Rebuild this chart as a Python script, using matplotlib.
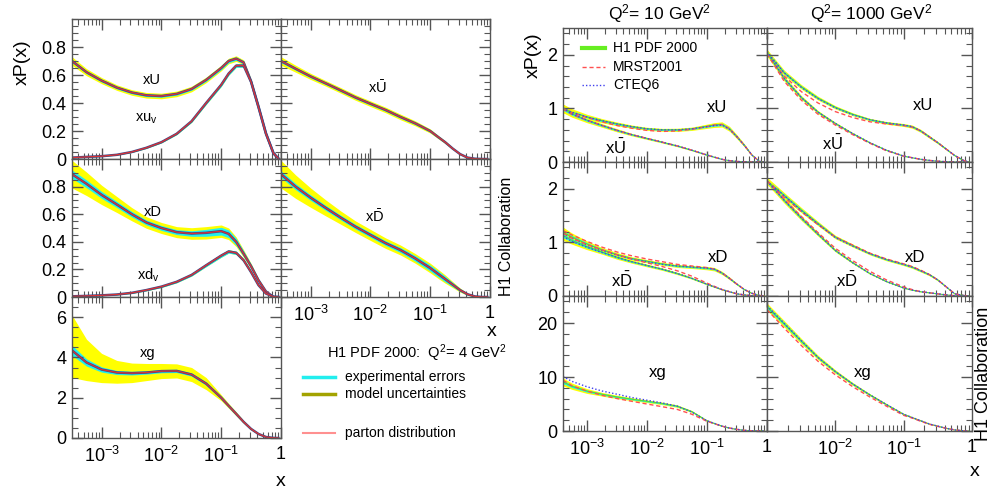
import numpy as np
import matplotlib
matplotlib.use("Agg")
import matplotlib.pyplot as plt
from matplotlib.ticker import LogLocator, MultipleLocator, NullFormatter

plt.rcParams['font.family'] = ['Liberation Sans', 'DejaVu Sans']
plt.rcParams['mathtext.fontset'] = 'custom'
plt.rcParams['mathtext.rm'] = 'Liberation Sans'
plt.rcParams['mathtext.it'] = 'Liberation Sans:italic'
plt.rcParams['mathtext.bf'] = 'Liberation Sans:bold'

# ---- H1 PDF 2000 at Q^2 = 4 GeV^2 ----
x_q4 = [3.2e-4, 5.6e-4, 1e-3, 1.8e-3, 3.2e-3, 5.6e-3, 1e-2, 1.8e-2, 3.2e-2, 5.6e-2,
        0.1, 0.133, 0.178, 0.237, 0.316, 0.42, 0.56, 0.75, 0.9]
xU = [0.70, 0.62, 0.56, 0.51, 0.475, 0.455, 0.45, 0.465, 0.50, 0.565, 0.65, 0.70, 0.717, 0.69, 0.555, 0.376, 0.185, 0.04, 0.005]
xU_tot = [0.03, 0.025, 0.022, 0.02, 0.02, 0.02, 0.02, 0.02, 0.02, 0.02, 0.02, 0.02, 0.02, 0.018, 0.015, 0.01, 0.006, 0.002, 0]
xU_exp = [0.012, 0.01, 0.01, 0.009, 0.009, 0.009, 0.009, 0.009, 0.009, 0.01, 0.012, 0.012, 0.012, 0.011, 0.01, 0.007, 0.004, 0.001, 0]
xuv = [0.01, 0.015, 0.02, 0.03, 0.05, 0.08, 0.12, 0.18, 0.27, 0.40, 0.53, 0.61, 0.667, 0.667, 0.55, 0.37, 0.18, 0.04, 0.005]
xuv_err = [0.002, 0.002, 0.002, 0.002, 0.003, 0.004, 0.005, 0.006, 0.008, 0.01, 0.012, 0.012, 0.012, 0.012, 0.01, 0.008, 0.005, 0.002, 0]
xUbar = [0.70, 0.645, 0.59, 0.54, 0.49, 0.44, 0.395, 0.35, 0.30, 0.255, 0.20, 0.16, 0.12, 0.075, 0.035, 0.01, 0.002, 0, 0]
xUbar_tot = [0.03, 0.025, 0.022, 0.02, 0.02, 0.02, 0.02, 0.02, 0.02, 0.018, 0.015, 0.012, 0.01, 0.007, 0.004, 0.002, 0, 0, 0]
xUbar_exp = [0.012, 0.01, 0.01, 0.009, 0.009, 0.009, 0.009, 0.009, 0.009, 0.009, 0.008, 0.007, 0.006, 0.004, 0.002, 0.001, 0, 0, 0]
xD = [0.89, 0.82, 0.74, 0.67, 0.60, 0.54, 0.50, 0.47, 0.46, 0.465, 0.477, 0.458, 0.40, 0.314, 0.223, 0.122, 0.04, 0.0, 0.0]
xD_tot = [0.10, 0.085, 0.07, 0.058, 0.048, 0.042, 0.04, 0.04, 0.042, 0.045, 0.045, 0.042, 0.035, 0.028, 0.02, 0.012, 0.005, 0, 0]
xD_exp = [0.03, 0.028, 0.025, 0.022, 0.02, 0.018, 0.018, 0.018, 0.02, 0.025, 0.028, 0.028, 0.025, 0.02, 0.015, 0.01, 0.004, 0, 0]
xdv = [0.005, 0.008, 0.012, 0.018, 0.03, 0.05, 0.075, 0.11, 0.16, 0.23, 0.30, 0.33, 0.32, 0.266, 0.18, 0.086, 0.025, 0.002, 0.0]
xdv_err = [0.002, 0.002, 0.003, 0.003, 0.004, 0.005, 0.006, 0.007, 0.008, 0.01, 0.012, 0.012, 0.012, 0.011, 0.01, 0.006, 0.003, 0.001, 0]
xDbar = [0.89, 0.80, 0.72, 0.645, 0.575, 0.51, 0.45, 0.39, 0.34, 0.28, 0.21, 0.17, 0.13, 0.09, 0.05, 0.02, 0.004, 0, 0]
xDbar_tot = [0.10, 0.085, 0.07, 0.058, 0.048, 0.042, 0.04, 0.038, 0.036, 0.035, 0.035, 0.033, 0.03, 0.022, 0.015, 0.008, 0.002, 0, 0]
xDbar_exp = [0.025, 0.022, 0.02, 0.018, 0.017, 0.017, 0.017, 0.017, 0.018, 0.02, 0.022, 0.022, 0.02, 0.015, 0.01, 0.005, 0.001, 0, 0]
xg = [4.35, 3.75, 3.40, 3.25, 3.22, 3.25, 3.32, 3.33, 3.15, 2.70, 2.0, 1.6, 1.2, 0.8, 0.45, 0.2, 0.05, 0.005, 0]
xg_up = [1.75, 1.15, 0.8, 0.6, 0.5, 0.45, 0.38, 0.35, 0.35, 0.3, 0.15, 0.12, 0.1, 0.07, 0.05, 0.03, 0.01, 0, 0]
xg_dn = [1.35, 0.9, 0.65, 0.53, 0.47, 0.4, 0.37, 0.35, 0.35, 0.3, 0.15, 0.12, 0.1, 0.07, 0.05, 0.03, 0.01, 0, 0]
xg_exp = [0.25, 0.18, 0.13, 0.1, 0.09, 0.08, 0.08, 0.08, 0.08, 0.08, 0.07, 0.06, 0.05, 0.04, 0.03, 0.02, 0.01, 0, 0]

# ---- comparison with MRST2001 / CTEQ6 at Q^2 = 10 GeV^2 ----
x_q10 = [4e-4, 5.6e-4, 1e-3, 1.8e-3, 3.2e-3, 5.6e-3, 1e-2, 1.8e-2, 3.2e-2, 5.6e-2,
         0.1, 0.133, 0.178, 0.237, 0.316, 0.42, 0.56, 0.75, 0.9]
q10_tot = [0.08, 0.07, 0.06, 0.05, 0.05, 0.045, 0.045, 0.045, 0.05, 0.05, 0.06, 0.065, 0.07, 0.075, 0.08, 0.09, 0.1, 0.1, 0.1]
q10_exp = [0.035, 0.03, 0.028, 0.025, 0.025, 0.022, 0.022, 0.022, 0.025, 0.025, 0.03, 0.032, 0.035, 0.038, 0.04, 0.045, 0.05, 0.05, 0.05]
h1_10_U = [1.0, 0.93, 0.84, 0.77, 0.71, 0.66, 0.62, 0.60, 0.60, 0.62, 0.667, 0.69, 0.70, 0.62, 0.47, 0.31, 0.13, 0.01, 0.0]
mrst_10_U = [1.0, 0.92, 0.83, 0.75, 0.68, 0.63, 0.59, 0.57, 0.58, 0.61, 0.66, 0.69, 0.70, 0.62, 0.47, 0.31, 0.13, 0.01, 0.0]
cteq_10_U = [1.0, 0.93, 0.84, 0.77, 0.71, 0.66, 0.62, 0.60, 0.60, 0.62, 0.66, 0.68, 0.69, 0.61, 0.47, 0.31, 0.13, 0.01, 0.0]
h1_10_Ubar = [1.0, 0.90, 0.78, 0.68, 0.59, 0.51, 0.44, 0.37, 0.30, 0.22, 0.13, 0.09, 0.05, 0.025, 0.01, 0.003, 0, 0, 0]
mrst_10_Ubar = [0.99, 0.89, 0.78, 0.68, 0.59, 0.51, 0.44, 0.37, 0.30, 0.22, 0.13, 0.09, 0.05, 0.025, 0.01, 0.003, 0, 0, 0]
cteq_10_Ubar = [1.0, 0.90, 0.78, 0.68, 0.59, 0.51, 0.44, 0.37, 0.30, 0.22, 0.13, 0.09, 0.05, 0.025, 0.01, 0.003, 0, 0, 0]
h1_10_D = [1.19, 1.10, 0.97, 0.86, 0.77, 0.70, 0.65, 0.60, 0.56, 0.54, 0.52, 0.50, 0.43, 0.33, 0.22, 0.12, 0.05, 0.01, 0.0]
mrst_10_D = [1.22, 1.14, 1.02, 0.91, 0.82, 0.75, 0.69, 0.64, 0.59, 0.56, 0.53, 0.50, 0.43, 0.33, 0.22, 0.12, 0.05, 0.01, 0.0]
cteq_10_D = [1.17, 1.08, 0.95, 0.85, 0.76, 0.69, 0.64, 0.59, 0.56, 0.54, 0.52, 0.50, 0.43, 0.33, 0.22, 0.12, 0.05, 0.01, 0.0]
h1_10_Dbar = [1.13, 1.04, 0.92, 0.82, 0.72, 0.64, 0.57, 0.50, 0.42, 0.33, 0.22, 0.17, 0.12, 0.08, 0.04, 0.02, 0.005, 0, 0]
mrst_10_Dbar = [1.17, 1.08, 0.96, 0.86, 0.77, 0.69, 0.62, 0.55, 0.47, 0.37, 0.24, 0.18, 0.12, 0.08, 0.04, 0.02, 0.005, 0, 0]
cteq_10_Dbar = [1.11, 1.02, 0.91, 0.81, 0.72, 0.64, 0.57, 0.50, 0.42, 0.33, 0.22, 0.17, 0.12, 0.08, 0.04, 0.02, 0.005, 0, 0]
h1_10_g = [9.1, 8.3, 7.4, 6.8, 6.3, 5.9, 5.5, 5.1, 4.6, 3.6, 1.9, 1.4, 0.9, 0.55, 0.3, 0.12, 0.03, 0, 0]
mrst_10_g = [9.4, 8.4, 7.4, 6.6, 6.0, 5.5, 5.0, 4.5, 4.0, 3.1, 1.8, 1.35, 0.9, 0.55, 0.3, 0.12, 0.03, 0, 0]
cteq_10_g = [10.1, 9.2, 8.2, 7.4, 6.8, 6.2, 5.7, 5.2, 4.6, 3.5, 1.9, 1.4, 0.9, 0.55, 0.3, 0.12, 0.03, 0, 0]

# ---- Q^2 = 1000 GeV^2 ----
x_q1000 = [1e-3, 1.8e-3, 3.2e-3, 5.6e-3, 1e-2, 1.8e-2, 3.2e-2, 5.6e-2,
           0.1, 0.133, 0.178, 0.237, 0.316, 0.42, 0.56, 0.75, 0.9]
q1000_tot = [0.03, 0.03, 0.03, 0.03, 0.03, 0.03, 0.03, 0.035, 0.04, 0.045, 0.05, 0.055, 0.06, 0.07, 0.08, 0.1, 0.1]
q1000_exp = [0.015, 0.015, 0.015, 0.015, 0.015, 0.015, 0.015, 0.018, 0.02, 0.022, 0.025, 0.028, 0.03, 0.035, 0.04, 0.05, 0.05]
h1_1000_U = [2.04, 1.66, 1.40, 1.19, 1.02, 0.89, 0.79, 0.73, 0.69, 0.66, 0.58, 0.47, 0.36, 0.24, 0.12, 0.03, 0.0]
mrst_1000_U = [2.02, 1.60, 1.31, 1.10, 0.94, 0.83, 0.75, 0.71, 0.68, 0.65, 0.58, 0.47, 0.36, 0.24, 0.12, 0.03, 0.0]
cteq_1000_U = [2.06, 1.66, 1.39, 1.18, 1.01, 0.88, 0.79, 0.73, 0.69, 0.66, 0.58, 0.47, 0.36, 0.24, 0.12, 0.03, 0.0]
h1_1000_Ubar = [2.04, 1.55, 1.20, 0.93, 0.72, 0.53, 0.36, 0.22, 0.11, 0.08, 0.05, 0.03, 0.015, 0.005, 0, 0, 0]
mrst_1000_Ubar = [2.02, 1.50, 1.15, 0.89, 0.69, 0.51, 0.35, 0.21, 0.11, 0.08, 0.05, 0.03, 0.015, 0.005, 0, 0, 0]
cteq_1000_Ubar = [2.06, 1.56, 1.20, 0.93, 0.72, 0.53, 0.36, 0.22, 0.11, 0.08, 0.05, 0.03, 0.015, 0.005, 0, 0, 0]
h1_1000_D = [2.15, 1.87, 1.60, 1.35, 1.10, 0.94, 0.79, 0.68, 0.59, 0.54, 0.47, 0.40, 0.30, 0.17, 0.04, 0.01, 0.0]
mrst_1000_D = [2.15, 1.84, 1.57, 1.33, 1.10, 0.95, 0.80, 0.69, 0.60, 0.55, 0.48, 0.40, 0.30, 0.17, 0.04, 0.01, 0.0]
cteq_1000_D = [2.14, 1.87, 1.59, 1.34, 1.09, 0.93, 0.79, 0.68, 0.59, 0.54, 0.47, 0.40, 0.30, 0.17, 0.04, 0.01, 0.0]
h1_1000_Dbar = [2.15, 1.78, 1.45, 1.15, 0.85, 0.62, 0.42, 0.27, 0.15, 0.11, 0.08, 0.06, 0.04, 0.02, 0.005, 0, 0]
mrst_1000_Dbar = [2.15, 1.80, 1.48, 1.18, 0.89, 0.66, 0.46, 0.30, 0.17, 0.12, 0.08, 0.06, 0.04, 0.02, 0.005, 0, 0]
cteq_1000_Dbar = [2.14, 1.78, 1.45, 1.15, 0.85, 0.62, 0.42, 0.27, 0.15, 0.11, 0.08, 0.06, 0.04, 0.02, 0.005, 0, 0]
h1_1000_g = [23.0, 19.8, 16.6, 13.6, 11.0, 8.7, 6.7, 4.9, 3.1, 2.5, 1.9, 1.3, 0.9, 0.5, 0.2, 0.03, 0.0]
mrst_1000_g = [22.5, 19.0, 15.8, 12.9, 10.4, 8.2, 6.3, 4.6, 2.9, 2.4, 1.8, 1.25, 0.85, 0.5, 0.2, 0.03, 0.0]
cteq_1000_g = [23.2, 19.9, 16.7, 13.6, 11.0, 8.7, 6.7, 4.9, 3.1, 2.5, 1.9, 1.3, 0.9, 0.5, 0.2, 0.03, 0.0]

W, H = 992, 492
fig = plt.figure(figsize=(W / 100, H / 100), dpi=100)
GRID = '#555555'


def panel(x0, y0, x1, y1):
    return fig.add_axes([x0 / W, 1 - y1 / H, (x1 - x0) / W, (y1 - y0) / H])


def ftext(x, y, s, **kw):
    kw.setdefault('ha', 'center')
    kw.setdefault('va', 'center')
    fig.text(x / W, 1 - y / H, s, **kw)


def style(ax, xlim, ylim, yticks, yminor, ylabels=False, xlabels=None):
    ax.set_xscale('log')
    ax.set_xlim(*xlim)
    ax.set_ylim(*ylim)
    ax.set_xticks([1e-3, 1e-2, 1e-1, 1])
    ax.xaxis.set_minor_locator(LogLocator(base=10, subs=np.arange(2, 10), numticks=20))
    ax.xaxis.set_minor_formatter(NullFormatter())
    if xlabels is None:
        ax.set_xticklabels([])
    else:
        ax.set_xticklabels(xlabels)
    ax.set_yticks(yticks)
    ax.yaxis.set_minor_locator(MultipleLocator(yminor))
    if ylabels:
        ax.set_yticklabels([('%g' % t) for t in yticks])
    else:
        ax.set_yticklabels([])
    ax.tick_params(which='both', direction='in', top=True, right=True,
                   color=GRID, labelsize=13, pad=4)
    ax.tick_params(which='major', length=8, width=1)
    ax.tick_params(which='minor', length=4, width=0.8)
    for s in ax.spines.values():
        s.set_color(GRID)
        s.set_linewidth(1)


def h1_band(ax, x, c, up, dn, eu, ed):
    c = np.asarray(c)
    ax.fill_between(x, c + np.asarray(up), c - np.asarray(dn), color='#ffff00', lw=0)
    ax.fill_between(x, c + np.asarray(eu), c - np.asarray(ed), color='#22eeee', lw=0)
    ax.plot(x, c, color='#3b4a8a', lw=1.8)
    ax.plot(x, c, color='#dd3333', lw=0.9)


LABELS_FULL = ['$10^{-3}$', '$10^{-2}$', '$10^{-1}$', '1']

# left block: Q^2 = 4 GeV^2
xl = (3.2e-4, 1)
a = panel(72, 19, 281, 159)
style(a, xl, (0, 1.0), [0, 0.2, 0.4, 0.6, 0.8], 0.05, ylabels=True)
h1_band(a, x_q4, xU, xU_tot, xU_tot, xU_exp, xU_exp)
h1_band(a, x_q4, xuv, xuv_err, xuv_err, xuv_err, xuv_err)

a = panel(281, 19, 490, 159)
style(a, xl, (0, 1.0), [0, 0.2, 0.4, 0.6, 0.8], 0.05)
h1_band(a, x_q4, xUbar, xUbar_tot, xUbar_tot, xUbar_exp, xUbar_exp)

a = panel(72, 159, 281, 297)
style(a, xl, (0, 1.0), [0, 0.2, 0.4, 0.6, 0.8], 0.05, ylabels=True)
h1_band(a, x_q4, xD, xD_tot, xD_tot, xD_exp, xD_exp)
h1_band(a, x_q4, xdv, xdv_err, xdv_err, xdv_err, xdv_err)

a = panel(281, 159, 490, 297)
style(a, xl, (0, 1.0), [0, 0.2, 0.4, 0.6, 0.8], 0.05, xlabels=LABELS_FULL)
a.tick_params(axis='x', pad=6)
h1_band(a, x_q4, xDbar, xDbar_tot, xDbar_tot, xDbar_exp, xDbar_exp)

a = panel(72, 297, 281, 438)
style(a, xl, (0, 7), [0, 2, 4, 6], 0.5, ylabels=True, xlabels=LABELS_FULL)
a.tick_params(axis='x', pad=6)
h1_band(a, x_q4, xg, xg_up, xg_dn, xg_exp, xg_exp)

ftext(22, 62, 'xP(x)', rotation=90, fontsize=14)
ftext(152, 80, 'xU', fontsize=10.5)
ftext(146, 119, 'xu$_\\mathregular{v}$', fontsize=10.5)
ftext(377, 88, 'x$\\bar{\\mathregular{U}}$', fontsize=10.5)
ftext(153, 212, 'xD', fontsize=10.5)
ftext(148, 275, 'xd$_\\mathregular{v}$', fontsize=10.5)
ftext(375, 217, 'x$\\bar{\\mathregular{D}}$', fontsize=10.5)
ftext(148, 353, 'xg', fontsize=10.5)
ftext(281, 481, 'x', fontsize=14)
ftext(492, 332, 'x', fontsize=14)
ftext(327, 353, 'H1 PDF 2000:  Q$^2$= 4 GeV$^2$', ha='left', fontsize=10.5)
for y, col, lw, lab in [(377, '#22eeee', 2.5, 'experimental errors'),
                        (394, '#a3a300', 2.5, 'model uncertainties'),
                        (433, '#ff9090', 1.5, 'parton distribution')]:
    fig.add_artist(plt.Line2D([303 / W, 335 / W], [1 - y / H, 1 - y / H], color=col, lw=lw))
    ftext(345, y, lab, ha='left', fontsize=10)
ftext(506, 236, 'H1 Collaboration', rotation=90, fontsize=11.5)

# right block: comparison at Q^2 = 10 and 1000 GeV^2
rows = [(28, 162), (162, 296), (296, 431)]
cols = [(563, 767), (767, 972)]
sets = [
    (x_q10, q10_tot, q10_exp, (4e-4, 1),
     [(h1_10_U, mrst_10_U, cteq_10_U), (h1_10_Ubar, mrst_10_Ubar, cteq_10_Ubar)],
     [(h1_10_D, mrst_10_D, cteq_10_D), (h1_10_Dbar, mrst_10_Dbar, cteq_10_Dbar)],
     [(h1_10_g, mrst_10_g, cteq_10_g)]),
    (x_q1000, q1000_tot, q1000_exp, (1e-3, 1),
     [(h1_1000_U, mrst_1000_U, cteq_1000_U), (h1_1000_Ubar, mrst_1000_Ubar, cteq_1000_Ubar)],
     [(h1_1000_D, mrst_1000_D, cteq_1000_D), (h1_1000_Dbar, mrst_1000_Dbar, cteq_1000_Dbar)],
     [(h1_1000_g, mrst_1000_g, cteq_1000_g)]),
]
ylims = [((0, 2.5), [0, 1, 2], 0.2), ((0, 2.5), [0, 1, 2], 0.2), ((0, 25), [0, 10, 20], 2)]

for ci, (xs, tot, exp, xlim, up_set, dn_set, g_set) in enumerate(sets):
    for ri, curves in enumerate([up_set, dn_set, g_set]):
        a = panel(cols[ci][0], rows[ri][0], cols[ci][1], rows[ri][1])
        xlab = None
        if ri == 2:
            xlab = LABELS_FULL if ci == 0 else ['', '$10^{-2}$', '$10^{-1}$', '1']
        style(a, xlim, ylims[ri][0], ylims[ri][1], ylims[ri][2], ylabels=(ci == 0), xlabels=xlab)
        a.tick_params(axis='x', pad=6)
        for h1, mrst, cteq in curves:
            c = np.asarray(h1)
            t = c * np.asarray(tot)
            e = c * np.asarray(exp)
            a.fill_between(xs, c + t, c - t, color='#ffff00', lw=0)
            a.fill_between(xs, c + e, c - e, color='#22eeee', lw=0)
            a.plot(xs, c, color='#55dd33', lw=0.8)
            a.plot(xs, mrst, color='#ff5050', lw=1, dashes=(3, 2))
            a.plot(xs, cteq, color='#4040ee', lw=1, dashes=(1, 1.5))

ftext(660, 14, 'Q$^2$= 10 GeV$^2$', fontsize=12.5)
ftext(871, 14, 'Q$^2$= 1000 GeV$^2$', fontsize=12.5)
ftext(533, 55, 'xP(x)', rotation=90, fontsize=14)
ftext(975, 471, 'x', fontsize=14)
ftext(984, 374, 'H1 Collaboration', rotation=90, fontsize=13)

ftext(717, 107, 'xU', fontsize=12)
ftext(615, 147, 'x$\\bar{\\mathregular{U}}$', fontsize=12)
ftext(923, 106, 'xU', fontsize=12)
ftext(832, 143, 'x$\\bar{\\mathregular{U}}$', fontsize=12)
ftext(718, 258, 'xD', fontsize=12)
ftext(622, 280, 'x$\\bar{\\mathregular{D}}$', fontsize=12)
ftext(915, 258, 'xD', fontsize=12)
ftext(847, 280, 'x$\\bar{\\mathregular{D}}$', fontsize=12)
ftext(658, 373, 'xg', fontsize=12)
ftext(863, 373, 'xg', fontsize=12)

for y, col, lw, dash, lab in [(48, '#66ee22', 3, None, 'H1 PDF 2000'),
                              (67, '#ff5050', 1, (3, 2), 'MRST2001'),
                              (85, '#4040ee', 1, (1, 1.5), 'CTEQ6')]:
    ln = plt.Line2D([582 / W, 605 / W], [1 - y / H, 1 - y / H], color=col, lw=lw)
    if dash:
        ln.set_dashes(dash)
    fig.add_artist(ln)
    ftext(613, y, lab, ha='left', fontsize=10)

fig.savefig('out.png', dpi=100)
